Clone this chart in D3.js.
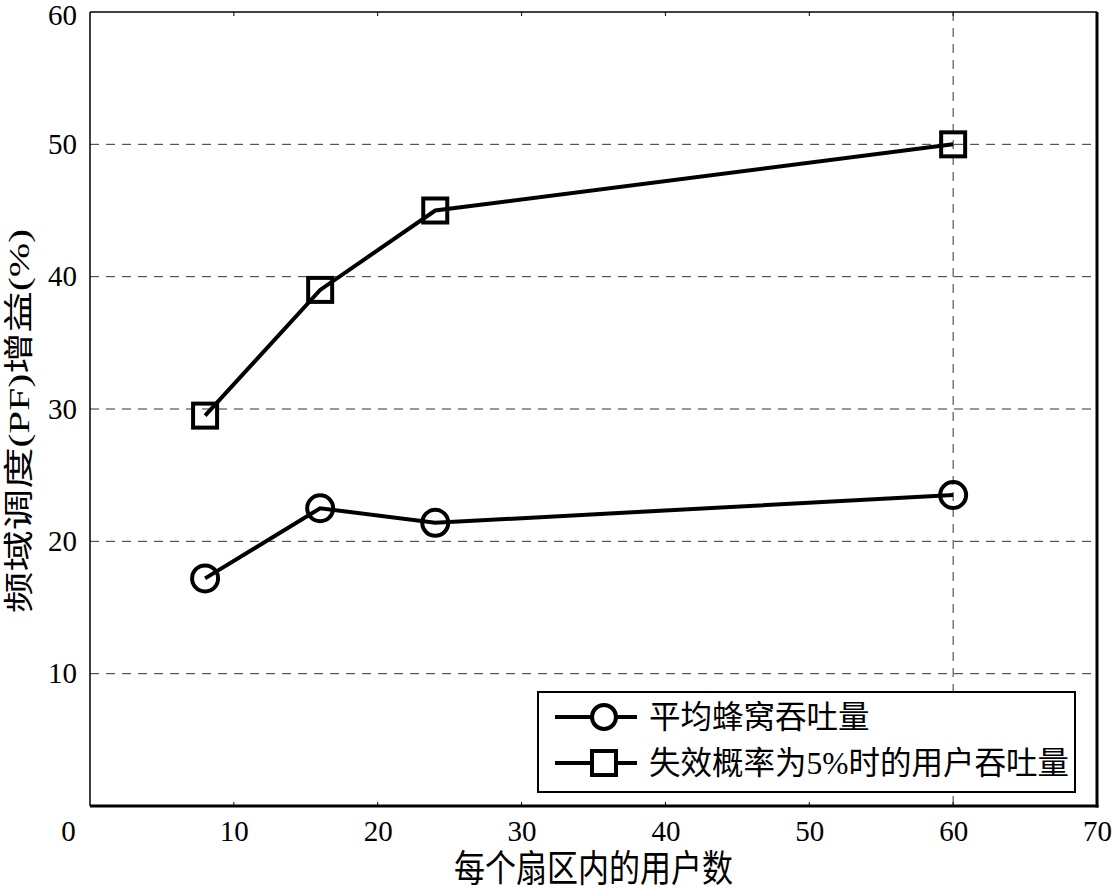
<!DOCTYPE html>
<html><head><meta charset="utf-8">
<script src="https://cdn.jsdelivr.net/npm/d3@7/dist/d3.min.js"></script>
<style>body{margin:0;background:#fff}svg{display:block}</style>
</head><body>
<script>
const users = [8, 16, 24, 60];
const cellThroughput = [17.2, 22.5, 21.4, 23.5];
const userThroughput5 = [29.5, 39.0, 45.0, 50.0];
const xTicks = [0, 10, 20, 30, 40, 50, 60, 70];
const yTicks = [10, 20, 30, 40, 50, 60];
const seriesNames = ["平均蜂窝吞吐量", "失效概率为5%时的用户吞吐量"];
const xTitle = "每个扇区内的用户数";
const yTitle = "频域调度(PF)增益(%)";

const W = 1113, H = 889;
const m = {l: 90, r: 1097, t: 12, b: 806};
const svg = d3.select("body").append("svg").attr("width", W).attr("height", H);
const x = d3.scaleLinear().domain([0, 70]).range([m.l, m.r]);
const y = d3.scaleLinear().domain([0, 60]).range([m.b, m.t]);
const numFont = "'Liberation Serif','DejaVu Serif',serif";
const cjkFont = "'Liberation Serif','Noto Sans CJK SC',serif";

// grid
svg.append("g").selectAll("line").data(yTicks.filter(d => d < 60)).join("line")
  .attr("x1", m.l).attr("x2", m.r).attr("y1", d => y(d)).attr("y2", d => y(d))
  .attr("stroke", "#333").attr("stroke-width", 1).attr("stroke-dasharray", "9,7");
svg.append("line").attr("x1", x(60)).attr("x2", x(60)).attr("y1", m.t).attr("y2", m.b)
  .attr("stroke", "#333").attr("stroke-width", 1).attr("stroke-dasharray", "9,7");

// axes via d3 axis for labels
const xAxis = svg.append("g").attr("transform", `translate(0,${m.b})`)
  .call(d3.axisBottom(x).tickValues(xTicks).tickSize(0).tickPadding(14));
xAxis.select(".domain").remove();
xAxis.attr("font-family", numFont);
xAxis.selectAll("text").attr("font-family", numFont).attr("font-size", 29).attr("fill", "#000");
xAxis.selectAll(".tick").filter(d => d === 0).select("text").attr("dx", -22);
const yAxis = svg.append("g").attr("transform", `translate(${m.l},0)`)
  .call(d3.axisLeft(y).tickValues(yTicks).tickSize(0).tickPadding(13));
yAxis.select(".domain").remove();
yAxis.attr("font-family", numFont);
yAxis.selectAll("text").attr("font-family", numFont).attr("font-size", 29).attr("fill", "#000");
yAxis.selectAll(".tick").filter(d => d === 60).select("text").attr("dy", "0.42em");

// small inner ticks
svg.append("g").selectAll("line").data(xTicks.slice(1, -1)).join("line")
  .attr("x1", d => x(d)).attr("x2", d => x(d)).attr("y1", m.t).attr("y2", m.t + 4)
  .attr("stroke", "#000").attr("stroke-width", 1);
svg.append("g").selectAll("line").data(xTicks.slice(1, -1)).join("line")
  .attr("x1", d => x(d)).attr("x2", d => x(d)).attr("y1", m.b).attr("y2", m.b - 4)
  .attr("stroke", "#000").attr("stroke-width", 1);

// frame
svg.append("line").attr("x1", m.l).attr("x2", m.r).attr("y1", m.t).attr("y2", m.t).attr("stroke", "#000").attr("stroke-width", 1.5);
svg.append("line").attr("x1", m.l).attr("x2", m.l).attr("y1", m.t).attr("y2", m.b).attr("stroke", "#000").attr("stroke-width", 1.5);
svg.append("line").attr("x1", m.r).attr("x2", m.r).attr("y1", m.t).attr("y2", m.b + 1.5).attr("stroke", "#000").attr("stroke-width", 3);
svg.append("line").attr("x1", m.l).attr("x2", m.r + 1.5).attr("y1", m.b).attr("y2", m.b).attr("stroke", "#000").attr("stroke-width", 3);

// series
const line = d3.line().x(d => x(d[0])).y(d => y(d[1]));
const s1 = users.map((u, i) => [u, cellThroughput[i]]);
const s2 = users.map((u, i) => [u, userThroughput5[i]]);
svg.append("path").attr("d", line(s1)).attr("fill", "none").attr("stroke", "#000").attr("stroke-width", 4);
svg.append("path").attr("d", line(s2)).attr("fill", "none").attr("stroke", "#000").attr("stroke-width", 4);
svg.append("g").selectAll("circle").data(s1).join("circle")
  .attr("cx", d => x(d[0])).attr("cy", d => y(d[1])).attr("r", 13)
  .attr("fill", "none").attr("stroke", "#000").attr("stroke-width", 4);
svg.append("g").selectAll("rect").data(s2).join("rect")
  .attr("x", d => x(d[0]) - 12).attr("y", d => y(d[1]) - 12).attr("width", 24).attr("height", 24)
  .attr("fill", "none").attr("stroke", "#000").attr("stroke-width", 4);

// legend
const lg = svg.append("g");
lg.append("rect").attr("x", 538).attr("y", 692).attr("width", 537).attr("height", 100)
  .attr("fill", "#fff").attr("stroke", "#000").attr("stroke-width", 2);
const rows = [717, 763];
rows.forEach((ry, i) => {
  lg.append("line").attr("x1", 555).attr("x2", 637).attr("y1", ry).attr("y2", ry).attr("stroke", "#000").attr("stroke-width", 4);
  if (i === 0) lg.append("circle").attr("cx", 604).attr("cy", ry).attr("r", 12).attr("fill", "#fff").attr("stroke", "#000").attr("stroke-width", 4);
  else lg.append("rect").attr("x", 592).attr("y", ry - 12).attr("width", 24).attr("height", 24).attr("fill", "#fff").attr("stroke", "#000").attr("stroke-width", 4);
  lg.append("text").attr("x", 649).attr("y", ry + 11).attr("font-family", cjkFont).attr("font-size", 31.5).text(seriesNames[i]);
});

// titles
svg.append("text").attr("transform", `translate(${(m.l + m.r) / 2},882) scale(1,1.2)`).attr("text-anchor", "middle")
  .attr("font-family", cjkFont).attr("font-size", 31).text(xTitle);
svg.append("text").attr("transform", `translate(19,421) rotate(-90) scale(1.38,1)`).attr("text-anchor", "middle")
  .attr("dominant-baseline", "central")
  .attr("font-family", cjkFont).attr("font-size", 30).text(yTitle);
</script>
</body></html>
